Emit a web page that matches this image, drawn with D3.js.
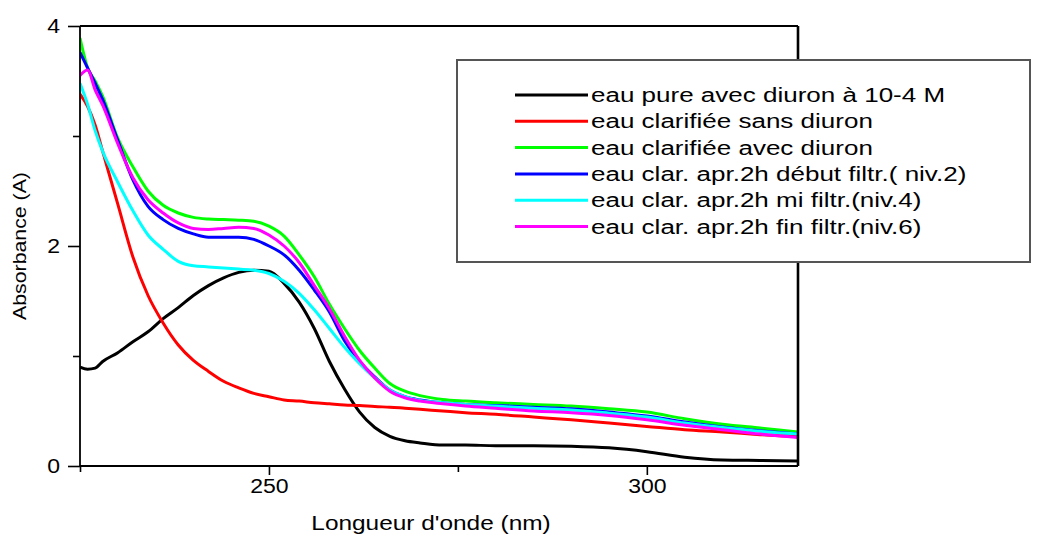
<!DOCTYPE html>
<html>
<head>
<meta charset="utf-8">
<script src="https://cdn.jsdelivr.net/npm/d3@7"></script>
<style>
  html, body { margin: 0; padding: 0; background: #fff; }
  svg text { font-family: "Liberation Sans", Arial, sans-serif; fill: #000; }
</style>
</head>
<body>
<svg id="chart" width="1039" height="535"></svg>
<script>
// ---- data (wavelength grid in nm, absorbance in A) ----
const wavelengths = [225,226,227,228,230,232,234,236,238,240,242,244,246,248,250,252,254,256,258,260,262,264,266,268,270,273,276,280,285,290,295,300,305,310,315,320];

const eauPure      = [0.90,0.88,0.89,0.95,1.03,1.13,1.22,1.34,1.44,1.55,1.64,1.71,1.76,1.78,1.77,1.66,1.49,1.25,0.95,0.70,0.49,0.35,0.27,0.23,0.21,0.19,0.19,0.185,0.185,0.18,0.165,0.13,0.08,0.055,0.05,0.045];
const clarSans     = [3.38,3.27,3.10,2.86,2.38,1.90,1.55,1.30,1.10,0.96,0.86,0.77,0.71,0.66,0.63,0.60,0.59,0.575,0.565,0.555,0.55,0.54,0.535,0.525,0.515,0.50,0.485,0.47,0.445,0.42,0.39,0.36,0.33,0.31,0.285,0.265];
const clarAvec     = [3.89,3.62,3.50,3.36,2.98,2.72,2.50,2.37,2.30,2.26,2.245,2.24,2.235,2.225,2.18,2.09,1.92,1.72,1.47,1.25,1.05,0.89,0.75,0.68,0.64,0.605,0.59,0.575,0.56,0.545,0.52,0.49,0.43,0.38,0.345,0.31];
const debutFiltr   = [3.76,3.62,3.48,3.33,2.96,2.60,2.36,2.24,2.16,2.11,2.08,2.08,2.08,2.06,2.00,1.92,1.78,1.60,1.40,1.14,0.95,0.81,0.69,0.63,0.60,0.575,0.56,0.55,0.535,0.52,0.49,0.455,0.40,0.355,0.32,0.29];
const miFiltr      = [3.48,3.29,3.05,2.86,2.58,2.32,2.10,1.97,1.86,1.82,1.81,1.80,1.79,1.78,1.75,1.68,1.57,1.42,1.25,1.08,0.93,0.80,0.69,0.63,0.595,0.575,0.56,0.545,0.525,0.51,0.48,0.445,0.39,0.35,0.315,0.29];
const finFiltr     = [3.55,3.60,3.42,3.28,2.93,2.62,2.42,2.30,2.21,2.16,2.15,2.16,2.17,2.16,2.10,2.00,1.85,1.64,1.43,1.18,0.96,0.80,0.68,0.62,0.59,0.565,0.545,0.525,0.50,0.485,0.46,0.42,0.37,0.33,0.29,0.26];

const seriesNames  = ["eau pure avec diuron à 10-4 M","eau clarifiée sans diuron","eau clarifiée avec diuron","eau clar. apr.2h début filtr.( niv.2)","eau clar. apr.2h mi filtr.(niv.4)","eau clar. apr.2h fin filtr.(niv.6)"];
const seriesValues = [eauPure, clarSans, clarAvec, debutFiltr, miFiltr, finFiltr];
const seriesColors = ["#000000","#ff0000","#00ff00","#0000ff","#00ffff","#ff00ff"];

const xMajorTicks = [250, 300];
const xMinorTicks = [225, 275];
const yMajorTicks = [0, 2, 4];
const yMinorTicks = [1, 3];
const xTitle = "Longueur d'onde (nm)";
const yTitle = "Absorbance (A)";

// ---- layout ----
const svg = d3.select("#chart");
const L = 80, R = 798, T = 26, B = 466;
const x = d3.scaleLinear().domain([225, 320]).range([L, R]);
const y = d3.scaleLinear().domain([0, 4]).range([B, T]);

function stretch(sel, k) {
  sel.each(function() {
    const len = this.getComputedTextLength();
    d3.select(this).attr("textLength", len * k).attr("lengthAdjust", "spacingAndGlyphs");
  });
}

// clip
svg.append("clipPath").attr("id", "plotclip")
  .append("rect").attr("x", L).attr("y", T - 2).attr("width", R - L + 1).attr("height", B - T + 2);

// curves
const line = d3.line().x(d => x(d[0])).y(d => y(d[1])).curve(d3.curveMonotoneX);
const gLines = svg.append("g").attr("clip-path", "url(#plotclip)");
seriesValues.forEach((vals, i) => {
  gLines.append("path")
    .datum(wavelengths.map((w, j) => [w, vals[j]]))
    .attr("d", line)
    .attr("fill", "none")
    .attr("stroke", seriesColors[i])
    .attr("stroke-width", 3)
    .attr("stroke-linejoin", "round");
});

// frame (top and right)
svg.append("line").attr("x1", L).attr("x2", R).attr("y1", T).attr("y2", T).attr("stroke", "#000").attr("stroke-width", 1.8);
svg.append("line").attr("x1", R).attr("x2", R).attr("y1", T).attr("y2", B).attr("stroke", "#000").attr("stroke-width", 2.6);

// axes
function styleAxis(g) {
  g.select(".domain").attr("stroke", "#000").attr("stroke-width", 1.8);
  g.selectAll(".tick line").attr("stroke", "#000").attr("stroke-width", 1.6);
  g.selectAll(".tick text").attr("font-size", 20).attr("font-family", "Liberation Sans, Arial, sans-serif");
}
const xAxis = svg.append("g").attr("transform", `translate(0,${B})`)
  .call(d3.axisBottom(x).tickValues(xMajorTicks).tickSize(9).tickPadding(4).tickFormat(d3.format("d")));
styleAxis(xAxis);
xAxis.selectAll(".domain").attr("d", `M${L},0H${R}`);
const xMinor = svg.append("g").attr("transform", `translate(0,${B})`)
  .call(d3.axisBottom(x).tickValues(xMinorTicks).tickSize(6).tickFormat(""));
styleAxis(xMinor);
xMinor.select(".domain").remove();

const yAxis = svg.append("g").attr("transform", `translate(${L},0)`)
  .call(d3.axisLeft(y).tickValues(yMajorTicks).tickSize(12).tickPadding(8).tickFormat(d3.format("d")));
styleAxis(yAxis);
yAxis.selectAll(".domain").attr("d", `M0,${T}V${B}`);
const yMinor = svg.append("g").attr("transform", `translate(${L},0)`)
  .call(d3.axisLeft(y).tickValues(yMinorTicks).tickSize(7).tickFormat(""));
styleAxis(yMinor);
yMinor.select(".domain").remove();

stretch(xAxis.selectAll(".tick text"), 1.15);
stretch(yAxis.selectAll(".tick text"), 1.15);

// titles
svg.append("text").attr("x", 431).attr("y", 530).attr("text-anchor", "middle")
  .attr("font-size", 20).text(xTitle).call(stretch, 1.22);
svg.append("text").attr("transform", "translate(26,246) rotate(-90)").attr("text-anchor", "middle")
  .attr("font-size", 19).text(yTitle).call(stretch, 1.12);

// legend
const lg = svg.append("g");
lg.append("rect").attr("x", 457).attr("y", 60).attr("width", 573).attr("height", 202)
  .attr("fill", "#fff").attr("stroke", "#555").attr("stroke-width", 2);
seriesNames.forEach((name, i) => {
  const cy = 95 + i * 26.3;
  lg.append("line").attr("x1", 515).attr("x2", 588).attr("y1", cy).attr("y2", cy)
    .attr("stroke", seriesColors[i]).attr("stroke-width", 3);
  lg.append("text").attr("x", 591).attr("y", cy + 7).attr("font-size", 20).text(name).call(stretch, 1.3);
});
</script>
</body>
</html>
